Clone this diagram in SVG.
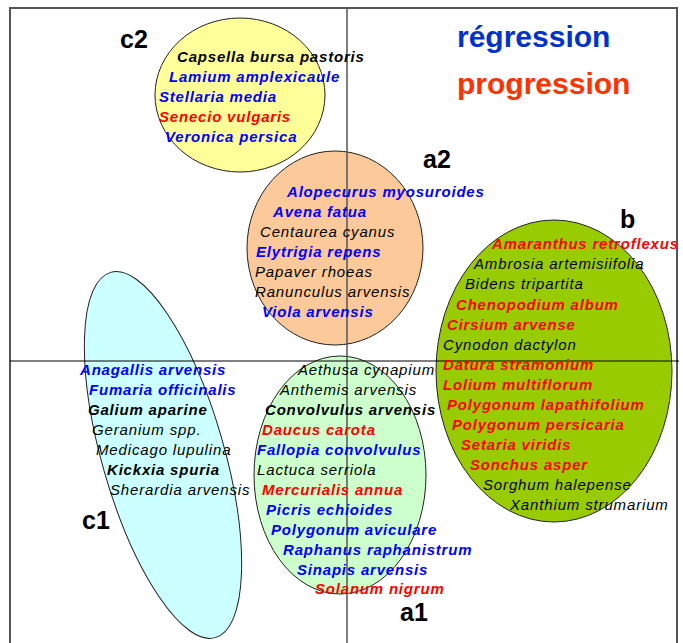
<svg xmlns="http://www.w3.org/2000/svg" width="683" height="643" viewBox="0 0 683 643">
<style>
text{font-family:"Liberation Sans",Arial,sans-serif;font-style:italic;font-size:15px}
.b{font-weight:bold;letter-spacing:0.8px}
.r{font-weight:normal;letter-spacing:0.85px}
.bl{fill:#0000ff}
.rd{fill:#ff0000}
.k{fill:#000}
.lab{font-style:normal;font-weight:bold;font-size:25px;fill:#000}
.leg{font-style:normal;font-weight:bold;font-size:30px}
.el{stroke:#222;stroke-width:1}
</style>
<rect x="0" y="0" width="683" height="643" fill="#fff"/>
<rect x="10" y="8" width="667" height="650" fill="#fff" stroke="#555" stroke-width="2"/>

<g id="c1">
<ellipse class="el" cx="163" cy="455" rx="61" ry="190" transform="rotate(-16 163 455)" fill="#ccffff"/>
</g>
<g id="c2">
<ellipse class="el" cx="240" cy="95" rx="85" ry="77" fill="#ffff99"/>
</g>
<g id="a2">
<ellipse class="el" cx="335" cy="248" rx="88" ry="97" fill="#fbc99a"/>
</g>
<g id="b">
<ellipse class="el" cx="554" cy="371" rx="118" ry="151" fill="#99cc00"/>
</g>
<g id="a1">
<ellipse class="el" cx="340" cy="475" rx="86" ry="119" fill="#ccffcc"/>
</g>

<g id="axes">
<line x1="347" y1="8" x2="347" y2="643" stroke="#555" stroke-width="1.5"/>
<line x1="10" y1="361" x2="679" y2="361" stroke="#000" stroke-width="1"/>
</g>

<g id="legend">
<text class="leg" x="457" y="47" fill="#0033cc">régression</text>
<text class="leg" x="457" y="94" fill="#ff3300">progression</text>
</g>

<g id="c2-text">
<text class="lab" x="120" y="48">c2</text>
<text class="b k" x="177" y="62">Capsella bursa pastoris</text>
<text class="b bl" x="169" y="82">Lamium amplexicaule</text>
<text class="b bl" x="159" y="102">Stellaria media</text>
<text class="b rd" x="159" y="122">Senecio vulgaris</text>
<text class="b bl" x="165" y="142">Veronica persica</text>
</g>

<g id="a2-text">
<text class="lab" x="423" y="168">a2</text>
<text class="b bl" x="287" y="197">Alopecurus myosuroides</text>
<text class="b bl" x="273" y="217">Avena fatua</text>
<text class="r k" x="260" y="237">Centaurea cyanus</text>
<text class="b bl" x="256" y="257">Elytrigia repens</text>
<text class="r k" x="255" y="277">Papaver rhoeas</text>
<text class="r k" x="255" y="297">Ranunculus arvensis</text>
<text class="b bl" x="262" y="317">Viola arvensis</text>
</g>

<g id="b-text">
<text class="lab" x="620" y="228">b</text>
<text class="b rd" x="492" y="249">Amaranthus retroflexus</text>
<text class="r k" x="474" y="269">Ambrosia artemisiifolia</text>
<text class="r k" x="465" y="289">Bidens tripartita</text>
<text class="b rd" x="456" y="310">Chenopodium album</text>
<text class="b rd" x="447" y="330">Cirsium arvense</text>
<text class="r k" x="443" y="350">Cynodon dactylon</text>
<text class="b rd" x="443" y="370">Datura stramonium</text>
<text class="b rd" x="443" y="390">Lolium multiflorum</text>
<text class="b rd" x="447" y="410">Polygonum lapathifolium</text>
<text class="b rd" x="452" y="430">Polygonum persicaria</text>
<text class="b rd" x="461" y="450">Setaria viridis</text>
<text class="b rd" x="470" y="470">Sonchus asper</text>
<text class="r k" x="483" y="490">Sorghum halepense</text>
<text class="r k" x="510" y="510">Xanthium strumarium</text>
</g>

<g id="c1-text">
<text class="lab" x="82" y="529">c1</text>
<text class="b bl" x="80" y="375">Anagallis arvensis</text>
<text class="b bl" x="89" y="395">Fumaria officinalis</text>
<text class="b k" x="88" y="415">Galium aparine</text>
<text class="r k" x="92" y="435">Geranium spp.</text>
<text class="r k" x="96" y="455">Medicago lupulina</text>
<text class="b k" x="107" y="475">Kickxia spuria</text>
<text class="r k" x="110" y="495">Sherardia arvensis</text>
</g>

<g id="a1-text">
<text class="lab" x="400" y="621">a1</text>
<text class="r k" x="298" y="375">Aethusa cynapium</text>
<text class="r k" x="280" y="395">Anthemis arvensis</text>
<text class="b k" x="265" y="415">Convolvulus arvensis</text>
<text class="b rd" x="262" y="435">Daucus carota</text>
<text class="b bl" x="257" y="455">Fallopia convolvulus</text>
<text class="r k" x="257" y="475">Lactuca serriola</text>
<text class="b rd" x="262" y="495">Mercurialis annua</text>
<text class="b bl" x="266" y="515">Picris echioides</text>
<text class="b bl" x="271" y="535">Polygonum aviculare</text>
<text class="b bl" x="283" y="555">Raphanus raphanistrum</text>
<text class="b bl" x="297" y="575">Sinapis arvensis</text>
<text class="b rd" x="315" y="594">Solanum nigrum</text>
</g>
</svg>
